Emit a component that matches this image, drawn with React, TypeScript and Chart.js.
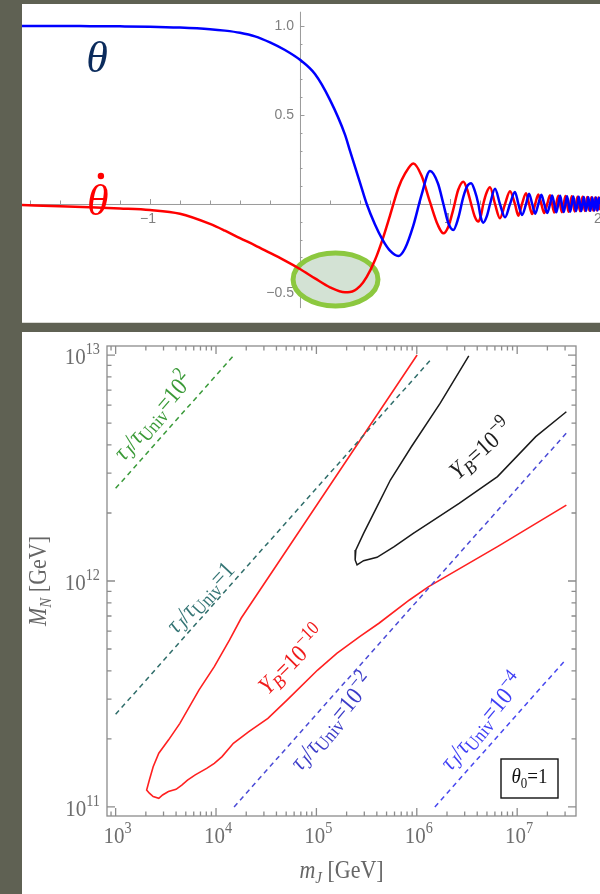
import React, { useEffect, useRef } from "react";
import { Chart, registerables } from "chart.js";
Chart.register(...registerables);

// ---------------- top panel: field oscillation vs log time ----------------
const PHASE_X = [
  -1.853, -1.6, -1.4, -1.2, -1.0, -0.8, -0.6, -0.5, -0.4, -0.3, -0.2, -0.1, 0, 0.1, 0.2, 0.3, 0.333, 0.4,
  0.445, 0.5, 0.55, 0.6, 0.656, 0.7, 0.756, 0.81, 0.867, 0.92, 0.956, 0.99, 1.022, 1.055, 1.089, 1.115,
  1.141, 1.165, 1.189, 1.205, 1.222, 1.245, 1.267,
  1.3, 1.333, 1.367,
  1.4, 1.433, 1.456, 1.48, 1.507, 1.527, 1.548, 1.568, 1.589, 1.609, 1.628, 1.648,
  1.667, 1.681, 1.695, 1.708, 1.722, 1.734, 1.746, 1.758, 1.77, 1.78, 1.791, 1.801,
  1.812, 1.822, 1.831, 1.84, 1.85, 1.858, 1.867, 1.875, 1.884, 1.892, 1.899, 1.907,
  1.915, 1.922, 1.929, 1.936, 1.943, 1.949, 1.955, 1.962, 1.968, 1.973, 1.979, 1.984,
  1.99, 1.995, 2.0,
];
const THETA = [
  1.0, 1.0, 0.999, 0.998, 0.996, 0.991, 0.982, 0.974, 0.962, 0.942, 0.908, 0.865, 0.81, 0.73, 0.585, 0.39, 0.3, 0.12,
  0.0, -0.115, -0.2, -0.262, -0.292, -0.25, -0.12, 0.05, 0.185, 0.115, 0.0, -0.11, -0.146, -0.08, 0.04, 0.1,
  0.117, 0.075, 0.0, -0.074, -0.105, -0.07, 0.0,
  0.085, 0.0, -0.075,
  0, 0.068, 0, -0.062, 0, 0.058, 0, -0.055, 0, 0.052, 0, -0.05,
  0, 0.048, 0, -0.047, 0, 0.046, 0, -0.045, 0, 0.044, 0, -0.043,
  0, 0.042, 0, -0.041, 0, 0.04, 0, -0.04, 0, 0.039, 0, -0.039,
  0, 0.038, 0, -0.038, 0, 0.037, 0, -0.037, 0, 0.036, 0, -0.036,
  0, 0.035, 0,
];
const THETA_DOT = [
  -0.006, -0.012, -0.018, -0.025, -0.034, -0.055, -0.112, -0.15, -0.192, -0.232, -0.275, -0.318, -0.365, -0.418, -0.468, -0.496, -0.495, -0.462,
  -0.41, -0.315, -0.2, -0.065, 0.09, 0.17, 0.228, 0.16, 0.01, -0.12, -0.165, -0.125, -0.03, 0.08, 0.125, 0.08,
  0.0, -0.07, -0.099, -0.07, 0.0, 0.066, 0.094,
  0.0, -0.08, 0.0,
  0.072, 0, -0.066, 0, 0.06, 0, -0.056, 0, 0.053, 0, -0.051, 0,
  0.049, 0, -0.048, 0, 0.047, 0, -0.046, 0, 0.045, 0, -0.044, 0,
  0.043, 0, -0.042, 0, 0.041, 0, -0.04, 0, 0.04, 0, -0.039, 0,
  0.039, 0, -0.038, 0, 0.038, 0, -0.037, 0, 0.037, 0, -0.036, 0,
  0.036, 0, -0.035,
];
const TOP_Y_TICKS = [1.0, 0.5, -0.5];
const TOP_Y_LABELS = ["1.0", "0.5", "\u22120.5"];
const TOP_X_TICKS = [-1, 1, 2];
const TOP_X_LABELS = ["\u22121", "1", "2"];
const HIGHLIGHT = { x: 0.237, y: -0.424, rx: 0.283, ry: 0.149 };

// ---------------- bottom panel: M_N vs m_J (log10 values) ----------------
const X_DECADES = [3, 4, 5, 6, 7];
const Y_DECADES = [11, 12, 13];

const YB10_LOG_MJ = [
  6.003, 5.127, 4.25, 4.135, 3.983, 3.831, 3.64, 3.526, 3.43, 3.374, 3.336, 3.309,
  3.336, 3.374, 3.43, 3.468, 3.526, 3.602, 3.659, 3.716, 3.793, 3.907, 3.983, 4.06, 4.173, 4.327,
  4.517, 4.707, 5.012, 5.203, 5.431, 5.623, 5.927, 6.118, 6.804, 7.49,
];
const YB10_LOG_MN = [
  13.0, 12.418, 11.835, 11.739, 11.621, 11.518, 11.37, 11.296, 11.238, 11.178, 11.119, 11.075,
  11.061, 11.046, 11.038, 11.053, 11.068, 11.078, 11.097, 11.119, 11.142, 11.171, 11.193, 11.223, 11.282, 11.333,
  11.392, 11.473, 11.606, 11.68, 11.754, 11.813, 11.916, 11.975, 12.152, 12.336,
];
const YB9_LOG_MJ = [
  6.518, 6.232, 5.946, 5.737, 5.604, 5.47, 5.393, 5.386, 5.405, 5.47, 5.604, 5.775, 5.965, 6.118, 6.422, 6.804, 7.185, 7.49,
];
const YB9_LOG_MN = [
  12.996, 12.786, 12.594, 12.447, 12.329, 12.211, 12.137, 12.093, 12.071, 12.09, 12.105, 12.152, 12.211, 12.255, 12.344, 12.462, 12.639, 12.749,
];
const TAU_1E2_LOG_MJ = [3.0, 4.19];
const TAU_1E2_LOG_MN = [12.41, 13.005];
const TAU_1_LOG_MJ = [3.0, 6.15];
const TAU_1_LOG_MN = [11.41, 12.985];
const TAU_1EM2_LOG_MJ = [4.18, 7.49];
const TAU_1EM2_LOG_MN = [11.0, 12.655];
const TAU_1EM4_LOG_MJ = [6.18, 7.49];
const TAU_1EM4_LOG_MN = [11.0, 11.655];

const BG = "#5f6153";
const SERIF = '"Liberation Serif", "Times New Roman", serif';
const SANS = '"Liberation Sans", Arial, sans-serif';

type Seg = { t: string; it?: boolean; k?: "sub" | "sup" };

function drawRich(
  ctx: CanvasRenderingContext2D,
  segs: Seg[],
  x: number,
  y: number,
  size: number,
  color: string,
  angle = 0,
  align: "center" | "left" | "right" = "center",
  scaleY = 1,
  subScale = 0.68
) {
  ctx.save();
  ctx.translate(x, y);
  ctx.rotate((angle * Math.PI) / 180);
  ctx.scale(1, scaleY);
  ctx.fillStyle = color;
  ctx.textBaseline = "alphabetic";
  ctx.textAlign = "left";
  const font = (s: number, it?: boolean) => `${it ? "italic " : ""}${s}px ${SERIF}`;
  let w = 0;
  const parts = segs.map((sg) => {
    const s = sg.k ? size * subScale : size;
    ctx.font = font(s, sg.it);
    const mw = ctx.measureText(sg.t).width;
    w += mw;
    return { sg, s, mw };
  });
  let cx = align === "center" ? -w / 2 : align === "right" ? -w : 0;
  const base = size * 0.33;
  for (const p of parts) {
    ctx.font = font(p.s, p.sg.it);
    const dy = p.sg.k === "sub" ? size * 0.2 : p.sg.k === "sup" ? -size * 0.42 : 0;
    ctx.fillText(p.sg.t, cx, base + dy);
    cx += p.mw;
  }
  ctx.restore();
}

const tauSegs = (tail: Seg[]): Seg[] => [
  { t: "\u03C4", it: true },
  { t: "J", it: true, k: "sub" },
  { t: "/" },
  { t: "\u03C4", it: true },
  { t: "Univ", k: "sub" },
  { t: "=" },
  ...tail,
];

function TopChart() {
  const ref = useRef<HTMLCanvasElement>(null);
  useEffect(() => {
    const canvas = ref.current!;
    const axesPlugin = {
      id: "topAxes",
      beforeDatasetsDraw(chart: any) {
        const ctx = chart.ctx as CanvasRenderingContext2D;
        const xs = chart.scales.x, ys = chart.scales.y;
        const x0 = xs.getPixelForValue(0), y0 = ys.getPixelForValue(0);
        ctx.save();
        ctx.strokeStyle = "#9a9a9a";
        ctx.lineWidth = 1;
        ctx.beginPath();
        ctx.moveTo(chart.chartArea.left, y0 + 0.5);
        ctx.lineTo(chart.chartArea.right, y0 + 0.5);
        ctx.moveTo(x0 + 0.5, ys.getPixelForValue(1.08));
        ctx.lineTo(x0 + 0.5, ys.getPixelForValue(-0.585));
        for (let i = -9; i <= 10; i++) {
          const v = i * 0.2;
          const p = Math.round(xs.getPixelForValue(v)) + 0.5;
          const len = i % 5 === 0 ? 5 : 3.5;
          ctx.moveTo(p, y0);
          ctx.lineTo(p, y0 - len);
        }
        for (let i = -5; i <= 10; i++) {
          const v = i * 0.1;
          const p = Math.round(ys.getPixelForValue(v)) + 0.5;
          const len = i % 5 === 0 ? 4.5 : 2.5;
          ctx.moveTo(x0, p);
          ctx.lineTo(x0 + len, p);
        }
        ctx.stroke();
        ctx.fillStyle = "#808080";
        ctx.font = `14px ${SANS}`;
        ctx.textAlign = "right";
        ctx.textBaseline = "middle";
        TOP_Y_TICKS.forEach((v, i) => ctx.fillText(TOP_Y_LABELS[i], x0 - 6, ys.getPixelForValue(v)));
        ctx.textAlign = "center";
        ctx.textBaseline = "top";
        TOP_X_TICKS.forEach((v, i) => ctx.fillText(TOP_X_LABELS[i], xs.getPixelForValue(v) - 2, y0 + 8));
        const cx = xs.getPixelForValue(HIGHLIGHT.x), cy = ys.getPixelForValue(HIGHLIGHT.y);
        const rx = xs.getPixelForValue(HIGHLIGHT.x + HIGHLIGHT.rx) - cx;
        const ry = ys.getPixelForValue(HIGHLIGHT.y - HIGHLIGHT.ry) - cy;
        ctx.beginPath();
        ctx.ellipse(cx, cy, rx, ry, 0, 0, Math.PI * 2);
        ctx.fillStyle = "#d3e2d4";
        ctx.fill();
        ctx.lineWidth = 5;
        ctx.strokeStyle = "#8cc83f";
        ctx.stroke();
        ctx.restore();
      },
      afterDatasetsDraw(chart: any) {
        const ctx = chart.ctx as CanvasRenderingContext2D;
        const xs = chart.scales.x, ys = chart.scales.y;
        ctx.save();
        ctx.textAlign = "center";
        ctx.textBaseline = "alphabetic";
        ctx.font = `italic 44px ${SERIF}`;
        ctx.fillStyle = "#0b2b5c";
        ctx.fillText("\u03B8", xs.getPixelForValue(-1.353), ys.getPixelForValue(0.74));
        ctx.fillStyle = "#ff0000";
        const tx = xs.getPixelForValue(-1.347), ty = ys.getPixelForValue(-0.062);
        ctx.fillText("\u03B8", tx, ty);
        ctx.beginPath();
        ctx.arc(tx + 3, ty - 39, 3.2, 0, Math.PI * 2);
        ctx.fill();
        ctx.restore();
      },
    };
    const ds = (ys: number[], color: string) => ({
      data: PHASE_X.map((x, i) => ({ x, y: ys[i] })),
      borderColor: color,
      borderWidth: 2.5,
      pointRadius: 0,
      cubicInterpolationMode: "monotone",
      fill: false,
    });
    const chart = new Chart(canvas, {
      type: "line",
      data: { datasets: [ds(THETA, "#0000ff"), ds(THETA_DOT, "#ff0000")] },
      options: {
        animation: false,
        responsive: false,
        maintainAspectRatio: false,
        layout: { padding: 0 },
        plugins: { legend: { display: false }, tooltip: { enabled: false } },
        scales: {
          x: { type: "linear", min: -1.853, max: 2.0, display: false },
          y: { type: "linear", min: -0.663, max: 1.1236, display: false },
        },
      },
      plugins: [axesPlugin],
    } as any);
    return () => chart.destroy();
  }, []);
  return <canvas ref={ref} width={578} height={318} style={{ display: "block" }} />;
}

function BottomChart() {
  const ref = useRef<HTMLCanvasElement>(null);
  useEffect(() => {
    const canvas = ref.current!;
    const pts = (lx: number[], ly: number[]) => lx.map((v, i) => ({ x: Math.pow(10, v), y: Math.pow(10, ly[i]) }));
    const line = (data: any, color: string, dash: number[] = [], width = 1.5) => ({
      data,
      borderColor: color,
      borderWidth: width,
      borderDash: dash,
      pointRadius: 0,
      showLine: true,
      tension: 0,
      fill: false,
    });
    const framePlugin = {
      id: "frame",
      afterDatasetsDraw(chart: any) {
        const ctx = chart.ctx as CanvasRenderingContext2D;
        const xs = chart.scales.x, ys = chart.scales.y;
        const { left, right, top, bottom } = chart.chartArea;
        ctx.save();
        ctx.strokeStyle = "#8c8c8c";
        ctx.lineWidth = 1.3;
        ctx.strokeRect(left, top, right - left, bottom - top);
        ctx.beginPath();
        for (let e = 2; e <= 7; e++)
          for (let k = 1; k <= 9; k++) {
            const v = k * Math.pow(10, e);
            if (v < xs.min || v > xs.max) continue;
            const p = xs.getPixelForValue(v);
            const len = k === 1 ? 8 : 4.5;
            ctx.moveTo(p, bottom);
            ctx.lineTo(p, bottom - len);
            ctx.moveTo(p, top);
            ctx.lineTo(p, top + len);
          }
        for (let e = 10; e <= 13; e++)
          for (let k = 1; k <= 9; k++) {
            const v = k * Math.pow(10, e);
            if (v < ys.min || v > ys.max) continue;
            const p = ys.getPixelForValue(v);
            const len = k === 1 ? 8 : 4.5;
            ctx.moveTo(left, p);
            ctx.lineTo(left + len, p);
            ctx.moveTo(right, p);
            ctx.lineTo(right - len, p);
          }
        ctx.stroke();
        ctx.restore();

        const tickCol = "#6e6e6e";
        X_DECADES.forEach((e) => {
          const p = xs.getPixelForValue(Math.pow(10, e));
          drawRich(ctx, [{ t: "10" }, { t: String(e), k: "sup" }], p + 2, bottom + 19, 21, tickCol, 0, "center", 1.1);
        });
        Y_DECADES.forEach((e) => {
          const p = ys.getPixelForValue(Math.pow(10, e));
          drawRich(ctx, [{ t: "10" }, { t: String(e), k: "sup" }], left - 7, p + 1, 21, tickCol, 0, "right", 1.1);
        });
        drawRich(
          ctx,
          [{ t: "m", it: true }, { t: "J", it: true, k: "sub" }, { t: " [GeV]" }],
          (left + right) / 2,
          bottom + 54,
          22,
          "#666666",
          0,
          "center",
          1.1
        );
        drawRich(
          ctx,
          [{ t: "M", it: true }, { t: "N", it: true, k: "sub" }, { t: " [GeV]" }],
          left - 69,
          (top + bottom) / 2,
          22,
          "#666666",
          -90,
          "center",
          1.1
        );
        const at = (lm: number, lM: number) => [xs.getPixelForValue(Math.pow(10, lm)), ys.getPixelForValue(Math.pow(10, lM))];
        const lab = (segs: Seg[], lm: number, lM: number, color: string, ang: number) => {
          const [px, py] = at(lm, lM);
          drawRich(ctx, segs, px, py, 22, color, ang, "center", 1.12, 0.78);
        };
        lab(tauSegs([{ t: "10" }, { t: "2", k: "sup" }]), 3.372, 12.73, "#3b9a38", -49);
        lab(tauSegs([{ t: "1" }]), 3.841, 11.929, "#357575", -47);
        lab([{ t: "Y", it: true }, { t: "B", it: true, k: "sub" }, { t: "=10" }, { t: "\u221210", k: "sup" }], 4.757, 11.65, "#f01c1c", -45);
        lab(tauSegs([{ t: "10" }, { t: "\u22122", k: "sup" }]), 5.155, 11.376, "#3c3cc8", -50);
        lab(tauSegs([{ t: "10" }, { t: "\u22124", k: "sup" }]), 6.649, 11.376, "#3f3ff5", -50);
        lab([{ t: "Y", it: true }, { t: "B", it: true, k: "sub" }, { t: "=10" }, { t: "\u22129", k: "sup" }], 6.639, 12.584, "#1e1e1e", -42);

        const bw = 57, bh = 39;
        const bx = right - 18 - bw, by = bottom - 18 - bh;
        ctx.save();
        ctx.strokeStyle = "#111";
        ctx.lineWidth = 1.4;
        ctx.strokeRect(bx, by, bw, bh);
        ctx.restore();
        drawRich(ctx, [{ t: "\u03B8", it: true }, { t: "0", k: "sub" }, { t: "=1" }], bx + bw / 2, by + bh / 2 - 2, 19, "#111", 0, "center", 1.1);
      },
    };
    const chart = new Chart(canvas, {
      type: "scatter",
      data: {
        datasets: [
          line(pts(TAU_1E2_LOG_MJ, TAU_1E2_LOG_MN), "#3a9a3a", [5, 4]),
          line(pts(TAU_1_LOG_MJ, TAU_1_LOG_MN), "#2f6d6a", [5, 4]),
          line(pts(TAU_1EM2_LOG_MJ, TAU_1EM2_LOG_MN), "#4a4ad6", [5, 4]),
          line(pts(TAU_1EM4_LOG_MJ, TAU_1EM4_LOG_MN), "#4747ef", [5, 4]),
          line(pts(YB10_LOG_MJ, YB10_LOG_MN), "#ff2020", [], 1.6),
          line(pts(YB9_LOG_MJ, YB9_LOG_MN), "#1a1a1a", [], 1.5),
        ],
      },
      options: {
        animation: false,
        responsive: false,
        maintainAspectRatio: false,
        layout: { padding: { left: 85, right: 24, top: 14, bottom: 78 } },
        plugins: { legend: { display: false }, tooltip: { enabled: false } },
        scales: {
          x: { type: "logarithmic", min: Math.pow(10, 2.914), max: Math.pow(10, 7.586), display: false },
          y: { type: "logarithmic", min: Math.pow(10, 10.96), max: Math.pow(10, 13.04), display: false },
        },
      },
      plugins: [framePlugin],
    } as any);
    return () => chart.destroy();
  }, []);
  return <canvas ref={ref} width={578} height={562} style={{ display: "block" }} />;
}

export default function App() {
  return (
    <div style={{ position: "fixed", left: 0, top: 0, width: 600, height: 894, background: BG, overflow: "hidden" }}>
      <div style={{ position: "absolute", left: 22, top: 4, width: 578, height: 318, background: "#ffffff" }}>
        <TopChart />
      </div>
      <div style={{ position: "absolute", left: 22, top: 322, width: 578, height: 1, background: "#d9d9d4" }} />
      <div style={{ position: "absolute", left: 22, top: 332, width: 578, height: 562, background: "#ffffff" }}>
        <BottomChart />
      </div>
    </div>
  );
}
